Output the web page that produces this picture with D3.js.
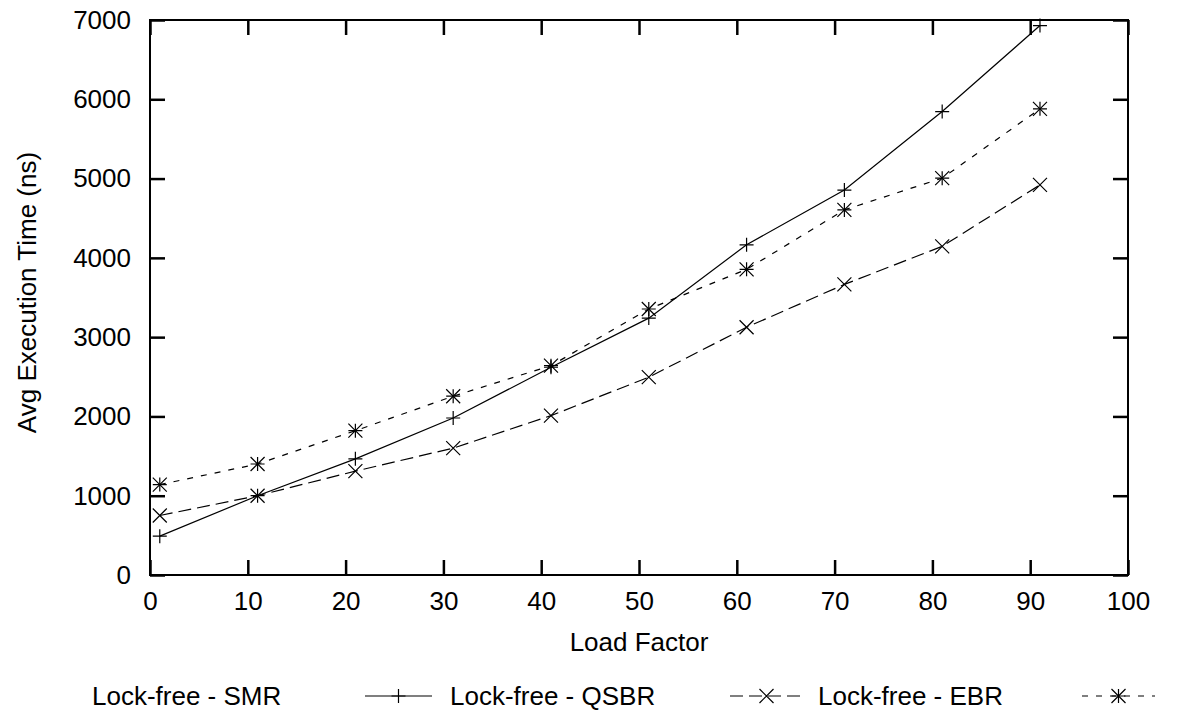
<!DOCTYPE html>
<html>
<head>
<meta charset="utf-8">
<script src="https://cdn.jsdelivr.net/npm/d3@7"></script>
<style>
  body { margin: 0; background: #fff; }
  text { font-family: "Liberation Sans", Arial, sans-serif; font-size: 26px; fill: #000; }
</style>
</head>
<body>
<div id="chart"></div>
<script>
// data
var loadFactor = [1, 11, 21, 31, 41, 51, 61, 71, 81, 91]
var smr  = [490, 1000, 1465, 1980, 2620, 3240, 4165, 4855, 5845, 6930]
var qsbr = [750, 1000, 1310, 1600, 2010, 2495, 3125, 3665, 4145, 4920]
var ebr  = [1140, 1400, 1820, 2255, 2640, 3355, 3855, 4605, 5005, 5880]
var seriesNames = ["Lock-free - SMR", "Lock-free - QSBR", "Lock-free - EBR"]
var xTicks = [0, 10, 20, 30, 40, 50, 60, 70, 80, 90, 100]
var yTicks = [0, 1000, 2000, 3000, 4000, 5000, 6000, 7000]

var width = 1188, height = 711
// plot box (window.top is reserved, so use other names)
var pLeft = 150, pRight = 1128, pTop = 20, pBottom = 575
var tickLen = 15

var svg = d3.select("#chart").append("svg")
    .attr("width", width)
    .attr("height", height)

var x = d3.scaleLinear().domain([0, 100]).range([pLeft, pRight])
var y = d3.scaleLinear().domain([0, 7000]).range([pBottom, pTop])

// axes - gnuplot style, ticks inward and mirrored
svg.append("g").attr("transform", "translate(0," + pBottom + ")")
    .call(d3.axisBottom(x).tickValues(xTicks).tickSize(-tickLen).tickPadding(17).tickFormat(d3.format("d")))
svg.append("g").attr("transform", "translate(0," + pTop + ")")
    .call(d3.axisTop(x).tickValues(xTicks).tickSize(-tickLen).tickFormat(""))
svg.append("g").attr("transform", "translate(" + pLeft + ",0)")
    .call(d3.axisLeft(y).tickValues(yTicks).tickSize(-tickLen).tickPadding(19).tickFormat(d3.format("d")))
svg.append("g").attr("transform", "translate(" + pRight + ",0)")
    .call(d3.axisRight(y).tickValues(yTicks).tickSize(-tickLen).tickFormat(""))

svg.selectAll(".domain").remove()
svg.selectAll(".tick line").attr("stroke", "#000").attr("stroke-width", 2.5)
svg.selectAll(".tick text")
    .style("font-family", "'Liberation Sans', Arial, sans-serif")
    .style("font-size", "26px")
    .attr("fill", "#000")

// frame
svg.append("rect")
    .attr("x", pLeft).attr("y", pTop)
    .attr("width", pRight - pLeft).attr("height", pBottom - pTop)
    .attr("fill", "none").attr("stroke", "#000").attr("stroke-width", 2)

// axis titles
svg.append("text")
    .attr("x", (pLeft + pRight) / 2).attr("y", 651)
    .attr("text-anchor", "middle")
    .text("Load Factor")
svg.append("text")
    .attr("transform", "translate(36," + ((pTop + pBottom) / 2 - 5) + ") rotate(-90)")
    .attr("text-anchor", "middle")
    .text("Avg Execution Time (ns)")

// markers
function plus(g, s) {
    g.append("path").attr("d", "M" + (-s) + ",0H" + s + "M0," + (-s) + "V" + s)
}
function cross(g, s) {
    g.append("path").attr("d", "M" + (-s) + "," + (-s) + "L" + s + "," + s + "M" + (-s) + "," + s + "L" + s + "," + (-s))
}
function star(g, s) { plus(g, s); cross(g, s) }

var series = [
    {name: seriesNames[0], values: smr, dash: null, marker: plus, size: 7},
    {name: seriesNames[1], values: qsbr, dash: "13,6", marker: cross, size: 7},
    {name: seriesNames[2], values: ebr, dash: "6,8", marker: star, size: 7}
]

var line = d3.line()
    .x(function (d) { return x(d[0]) })
    .y(function (d) { return y(d[1]) })

series.forEach(function (s) {
    var pts = loadFactor.map(function (lf, i) { return [lf, s.values[i]] })
    svg.append("path")
        .attr("d", line(pts))
        .attr("fill", "none")
        .attr("stroke", "#000")
        .attr("stroke-width", 1.2)
        .attr("stroke-dasharray", s.dash)
    pts.forEach(function (p) {
        var g = svg.append("g")
            .attr("transform", "translate(" + x(p[0]) + "," + y(p[1]) + ")")
            .attr("stroke", "#000").attr("stroke-width", 1.2).attr("fill", "none")
        s.marker(g, s.size)
    })
})

// legend along the bottom
var legendPos = [
    {tx: 92, x1: 365, x2: 432},
    {tx: 450, x1: 730, x2: 803},
    {tx: 818, x1: 1082, x2: 1155}
]
var ly = 705
series.forEach(function (s, i) {
    var p = legendPos[i]
    svg.append("text").attr("x", p.tx).attr("y", ly).text(s.name)
    svg.append("line")
        .attr("x1", p.x1).attr("x2", p.x2)
        .attr("y1", ly - 9).attr("y2", ly - 9)
        .attr("stroke", "#000").attr("stroke-width", 1.2)
        .attr("stroke-dasharray", s.dash)
    var g = svg.append("g")
        .attr("transform", "translate(" + ((p.x1 + p.x2) / 2) + "," + (ly - 9) + ")")
        .attr("stroke", "#000").attr("stroke-width", 1.2).attr("fill", "none")
    s.marker(g, s.size)
})
</script>
</body>
</html>
